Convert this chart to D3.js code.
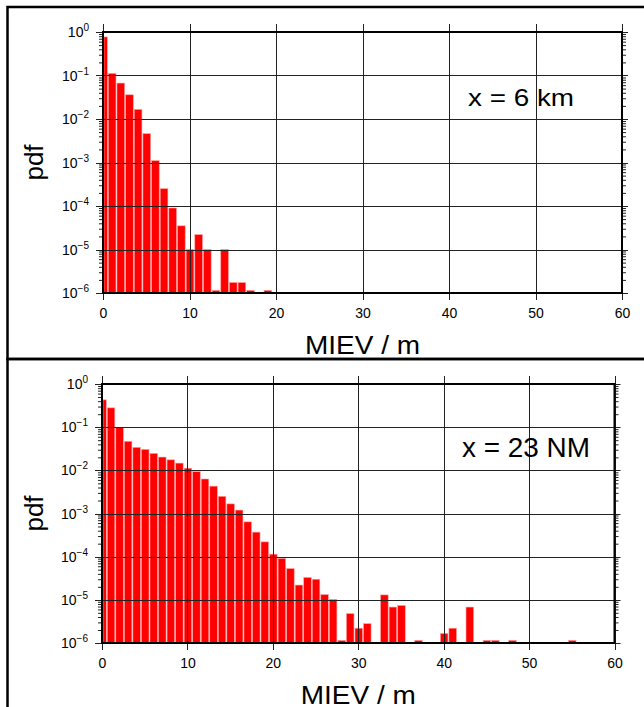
<!DOCTYPE html>
<html>
<head>
<meta charset="utf-8">
<script src="https://cdn.jsdelivr.net/npm/d3@7"></script>
<style>
  html, body { margin: 0; padding: 0; background: #fff; }
  svg { display: block; font-family: "Liberation Sans", Arial, Helvetica, sans-serif; }
</style>
</head>
<body>
<svg id="chart" width="644" height="707"></svg>
<script>
// MIEV histograms (pdf, log scale), one bin per metre centred on integers.
// Empty bins are 0 and are not drawn.
const xTicks = [0, 10, 20, 30, 40, 50, 60];
const yDecades = [-6, -5, -4, -3, -2, -1, 0];

const label6km = "x = 6 km";
const pdf6km = [
  0.77, 0.112, 0.067, 0.036, 0.0166, 0.0046, 0.0011, 2.5e-4, 9.0e-5, 3.5e-5,
  1.0e-5, 2.2e-5, 1.0e-5, 1.15e-6, 1.0e-5, 1.74e-6, 1.74e-6, 1.15e-6, 0, 1.15e-6
];

const label23nm = "x = 23 NM";
const pdf23nm = [
  0.43, 0.28, 0.099, 0.047, 0.034, 0.0305, 0.0247, 0.0203, 0.0175, 0.0147,
  0.0112, 0.0093, 0.0063, 0.0043, 0.0025, 0.00167, 0.0012, 6.4e-4, 3.7e-4, 2.2e-4,
  1.14e-4, 9.1e-5, 5.3e-5, 2.2e-5, 3.3e-5, 3.0e-5, 1.32e-5, 1.02e-5, 1.15e-6, 4.8e-6,
  2.2e-6, 2.8e-6, 0, 1.3e-5, 6.8e-6, 7.4e-6, 0, 1.15e-6, 0, 0,
  1.66e-6, 2.2e-6, 0, 6.8e-6, 0, 1.15e-6, 1.15e-6, 0, 1.15e-6, 0,
  0, 0, 0, 0, 0, 1.15e-6
];

const svg = d3.select("#chart");

// panel outer frames
svg.append("rect").attr("x", 7.5).attr("y", 7).attr("width", 660).attr("height", 352)
  .attr("fill", "none").attr("stroke", "#000").attr("stroke-width", 2.5);
svg.append("rect").attr("x", 7.5).attr("y", 359).attr("width", 660).attr("height", 400)
  .attr("fill", "none").attr("stroke", "#000").attr("stroke-width", 2.5);

function panel(cfg) {
  const g = svg.append("g");
  const x = d3.scaleLinear().domain([0, 60]).range([cfg.left, cfg.right]);
  const y = d3.scaleLog().domain([1e-6, 1]).range([cfg.bottom, cfg.top]);

  // bars
  const bins = cfg.values.map((v, i) => ({ c: i, v: v })).filter(d => d.v > 0);
  g.append("g").selectAll("rect").data(bins).join("rect")
    .attr("x", d => x(Math.max(0, d.c - 0.5)) + 1)
    .attr("width", d => x(d.c + 0.5) - x(Math.max(0, d.c - 0.5)) - 1)
    .attr("y", d => y(d.v))
    .attr("height", d => y(1e-6) - y(d.v))
    .attr("fill", "#ff0000")
    .attr("stroke", "#ff9c9c")
    .attr("stroke-width", 0.6);

  // vertical grid lines, extended past the frame as ticks
  g.append("g").selectAll("line").data(xTicks).join("line")
    .attr("x1", d => Math.round(x(d)) + 0.5).attr("x2", d => Math.round(x(d)) + 0.5)
    .attr("y1", cfg.top - 8).attr("y2", cfg.bottom + 7)
    .attr("stroke", "#222").attr("stroke-width", 1);

  // horizontal grid lines at each decade, extended left as major ticks
  g.append("g").selectAll("line").data(yDecades).join("line")
    .attr("x1", cfg.left - 7).attr("x2", cfg.right + 6)
    .attr("y1", d => Math.round(y(Math.pow(10, d))) + 0.5)
    .attr("y2", d => Math.round(y(Math.pow(10, d))) + 0.5)
    .attr("stroke", "#222").attr("stroke-width", 1);

  // minor log ticks on both sides
  const minors = [];
  for (let e = -6; e < 0; e++) for (let k = 2; k <= 9; k++) minors.push(k * Math.pow(10, e));
  const leftAxis = d3.axisLeft(y).tickValues(minors).tickSize(4).tickFormat("");
  const rightAxis = d3.axisRight(y).tickValues(minors).tickSize(4).tickFormat("");
  g.append("g").attr("transform", `translate(${cfg.left},0)`).call(leftAxis)
    .call(a => a.select(".domain").remove())
    .selectAll("line").attr("stroke", "#222");
  g.append("g").attr("transform", `translate(${cfg.right},0)`).call(rightAxis)
    .call(a => a.select(".domain").remove())
    .selectAll("line").attr("stroke", "#222");

  // plot frame
  g.append("rect")
    .attr("x", cfg.left).attr("y", cfg.top)
    .attr("width", cfg.right - cfg.left).attr("height", cfg.bottom - cfg.top)
    .attr("fill", "none").attr("stroke", "#000").attr("stroke-width", 2);

  // x tick labels
  const xAxis = d3.axisBottom(x).tickValues(xTicks).tickSize(0).tickPadding(0);
  g.append("g").attr("transform", `translate(0,${cfg.bottom})`).call(xAxis)
    .call(a => a.select(".domain").remove())
    .selectAll("text")
    .attr("y", 25).attr("dy", null)
    .attr("fill", "#000").attr("font-size", 14)
    .attr("font-family", "Liberation Sans, Arial, sans-serif");

  // y tick labels 10^n
  const yl = g.append("g").selectAll("text").data(yDecades).join("text")
    .attr("x", cfg.left - 14)
    .attr("y", d => y(Math.pow(10, d)) + 5)
    .attr("text-anchor", "end")
    .attr("font-size", 14);
  yl.append("tspan").text("10");
  yl.append("tspan").attr("dy", -6).attr("font-size", 10)
    .text(d => d === 0 ? "0" : "\u2212" + Math.abs(d));

  // axis titles
  g.append("text")
    .attr("x", (cfg.left + cfg.right) / 2).attr("y", cfg.bottom + 61)
    .attr("text-anchor", "middle").attr("font-size", 26)
    .attr("textLength", 115).attr("lengthAdjust", "spacingAndGlyphs")
    .text("MIEV / m");
  g.append("text")
    .attr("transform", `translate(43,${(cfg.top + cfg.bottom) / 2}) rotate(-90)`)
    .attr("text-anchor", "middle").attr("font-size", 26)
    .text("pdf");

  // panel annotation
  g.append("text")
    .attr("x", cfg.noteX).attr("y", cfg.noteY)
    .attr("font-size", cfg.noteSize)
    .attr("textLength", cfg.noteLen).attr("lengthAdjust", "spacingAndGlyphs")
    .text(cfg.note);
}

panel({ left: 103, right: 622, top: 32, bottom: 293, values: pdf6km,
        note: label6km, noteX: 468, noteY: 106, noteSize: 24, noteLen: 106 });
panel({ left: 102, right: 614.5, top: 384, bottom: 643, values: pdf23nm,
        note: label23nm, noteX: 462, noteY: 457, noteSize: 28, noteLen: 128 });
</script>
</body>
</html>
